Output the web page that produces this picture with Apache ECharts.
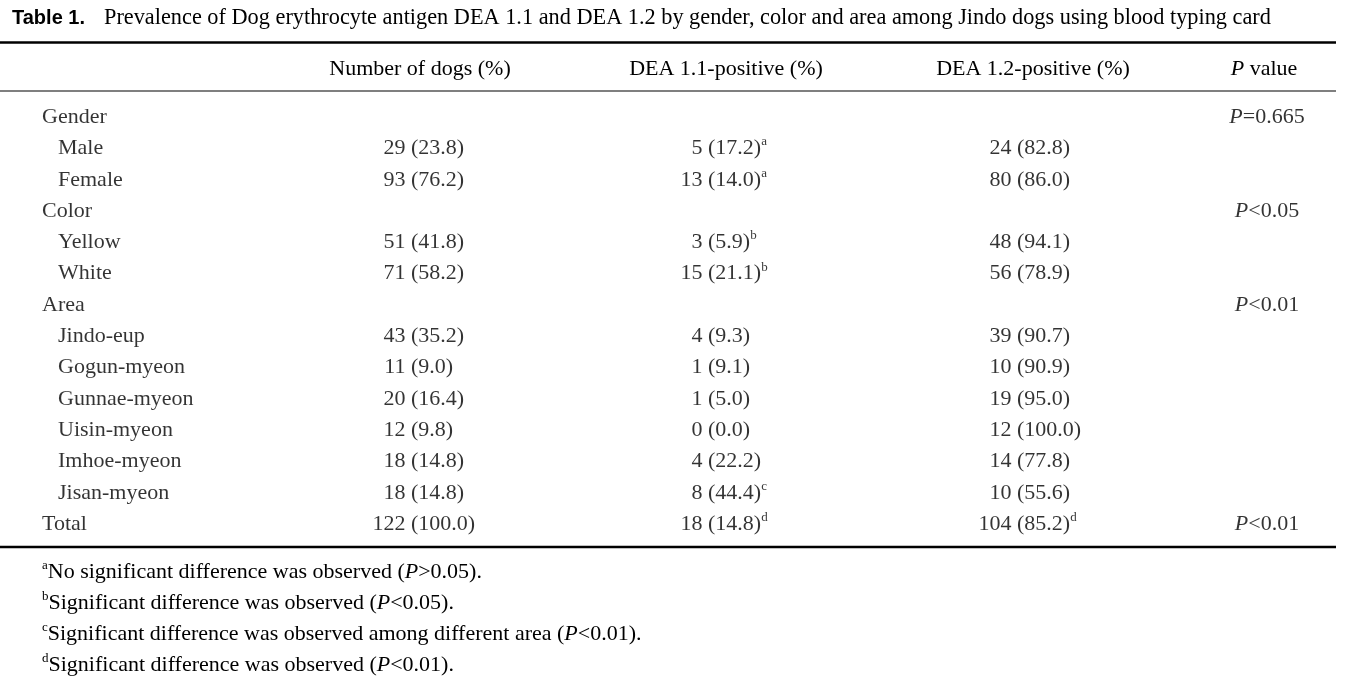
<!DOCTYPE html>
<html><head><meta charset="utf-8">
<script src="https://cdn.jsdelivr.net/npm/echarts@6/dist/echarts.min.js"></script>
<style>html,body{margin:0;padding:0;background:#fff}#c{width:1353px;height:683px}</style>
</head><body><div id="c"></div>
<script>
// ---------------- data ----------------
const tableLabel = 'Table 1.';
const tableTitle = 'Prevalence of Dog erythrocyte antigen DEA 1.1 and DEA 1.2 by gender, color and area among Jindo dogs using blood typing card';
const columnHeaders = ['Number of dogs (%)', 'DEA 1.1-positive (%)', 'DEA 1.2-positive (%)', 'P value'];
const rowLabels = ['Gender', 'Male', 'Female', 'Color', 'Yellow', 'White', 'Area', 'Jindo-eup', 'Gogun-myeon', 'Gunnae-myeon', 'Uisin-myeon', 'Imhoe-myeon', 'Jisan-myeon', 'Total'];
const groupRows = ['Gender', 'Color', 'Area', 'Total'];
const dogCounts     = [null, 29, 93, null, 51, 71, null, 43, 11, 20, 12, 18, 18, 122];
const dogPercents   = [null, 23.8, 76.2, null, 41.8, 58.2, null, 35.2, 9.0, 16.4, 9.8, 14.8, 14.8, 100.0];
const dea11Counts   = [null, 5, 13, null, 3, 15, null, 4, 1, 1, 0, 4, 8, 18];
const dea11Percents = [null, 17.2, 14.0, null, 5.9, 21.1, null, 9.3, 9.1, 5.0, 0.0, 22.2, 44.4, 14.8];
const dea11Notes    = ['', 'a', 'a', '', 'b', 'b', '', '', '', '', '', '', 'c', 'd'];
const dea12Counts   = [null, 24, 80, null, 48, 56, null, 39, 10, 19, 12, 14, 10, 104];
const dea12Percents = [null, 82.8, 86.0, null, 94.1, 78.9, null, 90.7, 90.9, 95.0, 100.0, 77.8, 55.6, 85.2];
const dea12Notes    = ['', '', '', '', '', '', '', '', '', '', '', '', '', 'd'];
const pValues       = ['=0.665', '', '', '<0.05', '', '', '<0.01', '', '', '', '', '', '', '<0.01'];
const footnoteMarks = ['a', 'b', 'c', 'd'];
const footnoteTexts = ['No significant difference was observed', 'Significant difference was observed', 'Significant difference was observed among different area', 'Significant difference was observed'];
const footnotePs    = ['>0.05', '<0.05', '<0.01', '<0.01'];

// ---------------- layout / style ----------------
const FONT = "'Liberation Serif', 'Times New Roman', serif";
const INK = '#000';
const FS = 22;
const ROW_TOP = 101.5, ROW_H = 31.3;
const TABLE_LEFT = 0, TABLE_RIGHT = 1336;
const numCols = [
  {center: 420, paren: 411, counts: dogCounts, pct: dogPercents, notes: null},
  {center: 726, paren: 708, counts: dea11Counts, pct: dea11Percents, notes: dea11Notes},
  {center: 1033, paren: 1017, counts: dea12Counts, pct: dea12Percents, notes: dea12Notes}
];
const P_CENTER = 1264;
const LABEL_LEFT = 42, INDENT = 16;
const SPACE = 5.5;

const rich = {
  n: {fontFamily: FONT, fontSize: FS, color: INK, lineHeight: 26},
  i: {fontFamily: FONT, fontSize: FS, color: INK, fontStyle: 'italic', lineHeight: 26},
  s: {fontFamily: FONT, fontSize: 13, color: INK, verticalAlign: 'top', lineHeight: 15}
};

const grids = [], xAxes = [], yAxes = [], series = [];
function addGrid(left, width) {
  grids.push({left: left, width: width, top: ROW_TOP, height: ROW_H * rowLabels.length});
  return grids.length - 1;
}
function hiddenY(gi) {
  yAxes.push({type: 'category', gridIndex: gi, data: rowLabels, inverse: true, show: false});
}
const baseSeries = {type: 'scatter', symbolSize: 1, itemStyle: {color: 'transparent'}, silent: true, animation: false};
const headerAxis = {position: 'top', axisLine: {show: false}, axisTick: {show: false}, splitLine: {show: false}};
const headerLabel = {margin: 32, verticalAlign: 'middle', rich: rich};

// label column
let gi = addGrid(LABEL_LEFT, 200);
xAxes.push({type: 'value', gridIndex: gi, min: 0, max: 1, show: false});
hiddenY(gi);
series.push(Object.assign({}, baseSeries, {
  xAxisIndex: gi, yAxisIndex: gi,
  data: rowLabels.map((r, i) => ({value: [0, i], name: r, label: {offset: [groupRows.includes(r) ? 0 : INDENT, 0]}})),
  label: {show: true, position: 'inside', align: 'left', verticalAlign: 'middle', formatter: p => '{n|' + p.name + '}', rich: rich}
}));

// numeric columns
numCols.forEach((c, k) => {
  const g = addGrid(c.center - 100, 200);
  xAxes.push(Object.assign({type: 'category', gridIndex: g, data: [columnHeaders[k]]}, headerAxis,
    {axisLabel: Object.assign({formatter: v => '{n|' + v + '}'}, headerLabel)}));
  hiddenY(g);
  const dx = c.paren - c.center;
  series.push(Object.assign({}, baseSeries, {
    xAxisIndex: g, yAxisIndex: g,
    data: c.counts.map((v, i) => v == null ? null : [0, i, v]),
    label: {show: true, position: 'inside', align: 'right', verticalAlign: 'middle', offset: [dx - SPACE, 0],
      formatter: p => '{n|' + p.value[2] + '}', rich: rich}
  }));
  series.push(Object.assign({}, baseSeries, {
    xAxisIndex: g, yAxisIndex: g,
    data: c.pct.map((v, i) => v == null ? null : [0, i, v]),
    label: {show: true, position: 'inside', align: 'left', verticalAlign: 'middle', offset: [dx, 0],
      formatter: p => '{n|(' + p.value[2].toFixed(1) + ')}' + (c.notes && c.notes[p.dataIndex] ? '{s|' + c.notes[p.dataIndex] + '}' : ''),
      rich: rich}
  }));
});

// P value column
gi = addGrid(P_CENTER - 60, 120);
xAxes.push(Object.assign({type: 'category', gridIndex: gi, data: [columnHeaders[3]]}, headerAxis,
  {axisLabel: Object.assign({formatter: v => '{i|P}{n|' + v.slice(1) + '}'}, headerLabel)}));
hiddenY(gi);
series.push(Object.assign({}, baseSeries, {
  xAxisIndex: gi, yAxisIndex: gi,
  data: pValues.map((v, i) => v ? {value: [0, i], name: v} : null),
  label: {show: true, position: 'inside', align: 'center', verticalAlign: 'middle', offset: [3, 0],
    formatter: p => '{i|P}{n|' + p.name + '}', rich: rich}
}));

// rules, title and footnotes
const noteRich = {n: {fontFamily: FONT, fontSize: FS, fill: INK, lineHeight: 26},
                  i: {fontFamily: FONT, fontSize: FS, fill: INK, fontStyle: 'italic', lineHeight: 26},
                  s: {fontFamily: FONT, fontSize: 13, fill: INK, verticalAlign: 'top', lineHeight: 15}};
const graphic = [
  {type: 'line', shape: {x1: TABLE_LEFT, y1: 42.5, x2: TABLE_RIGHT, y2: 42.5}, style: {stroke: INK, lineWidth: 2.6}},
  {type: 'line', shape: {x1: TABLE_LEFT, y1: 91, x2: TABLE_RIGHT, y2: 91}, style: {stroke: '#555', lineWidth: 1.5}},
  {type: 'line', shape: {x1: TABLE_LEFT, y1: 547, x2: TABLE_RIGHT, y2: 547}, style: {stroke: INK, lineWidth: 2.6}},
  {type: 'text', left: 12, top: 7, style: {
    text: '{b|' + tableLabel + '}{t|' + tableTitle + '}',
    rich: {b: {fontFamily: "'Liberation Sans', Arial, sans-serif", fontWeight: 'bold', fontSize: 20, fill: INK, width: 92, lineHeight: 26},
           t: {fontFamily: FONT, fontSize: 22.3, fill: INK, lineHeight: 26}}}}
];
footnoteMarks.forEach((m, k) => {
  graphic.push({type: 'text', left: 42, top: 559 + k * 31, style: {
    text: '{s|' + m + '}{n|' + footnoteTexts[k] + ' (}{i|P}{n|' + footnotePs[k] + ').}',
    rich: noteRich}});
});

const chart = echarts.init(document.getElementById('c'), null, {renderer: 'canvas'});
chart.setOption({
  backgroundColor: '#fff', animation: false,
  grid: grids, xAxis: xAxes, yAxis: yAxes, series: series, graphic: graphic
});
</script></body></html>
